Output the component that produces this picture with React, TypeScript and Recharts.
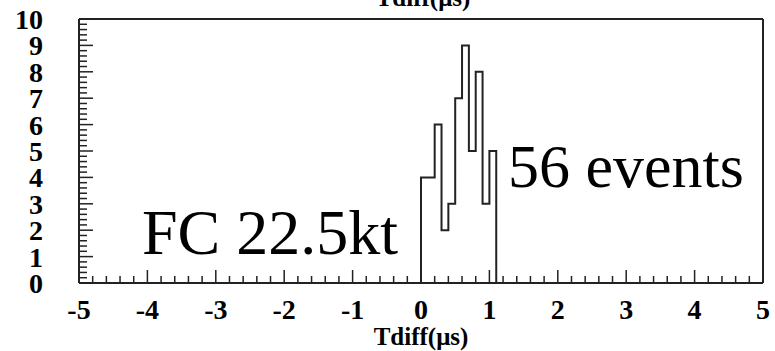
import { ComposedChart, Line, XAxis, YAxis, ReferenceLine } from "recharts";

// Histogram of Tdiff, 0.1 µs bins; only the non-empty bins are listed
const BIN_LOW = [0.0, 0.1, 0.2, 0.3, 0.4, 0.5, 0.6, 0.7, 0.8, 0.9, 1.0];
const COUNTS = [4, 4, 6, 2, 3, 7, 9, 5, 8, 3, 5];
const BIN_WIDTH = 0.1;

const X_RANGE = [-5, 5];
const Y_RANGE = [0, 10];
const X_MAJOR = [-5, -4, -3, -2, -1, 0, 1, 2, 3, 4, 5];
const X_MINOR = [-4.8, -4.6, -4.4, -4.2, -3.8, -3.6, -3.4, -3.2, -2.8, -2.6, -2.4, -2.2, -1.8, -1.6, -1.4, -1.2, -0.8, -0.6, -0.4, -0.2, 0.2, 0.4, 0.6, 0.8, 1.2, 1.4, 1.6, 1.8, 2.2, 2.4, 2.6, 2.8, 3.2, 3.4, 3.6, 3.8, 4.2, 4.4, 4.6, 4.8];
const Y_MAJOR = [0, 1, 2, 3, 4, 5, 6, 7, 8, 9, 10];
const Y_MINOR = [0.2, 0.4, 0.6, 0.8, 1.2, 1.4, 1.6, 1.8, 2.2, 2.4, 2.6, 2.8, 3.2, 3.4, 3.6, 3.8, 4.2, 4.4, 4.6, 4.8, 5.2, 5.4, 5.6, 5.8, 6.2, 6.4, 6.6, 6.8, 7.2, 7.4, 7.6, 7.8, 8.2, 8.4, 8.6, 8.8, 9.2, 9.4, 9.6, 9.8];

const TITLE = "Tdiff(\u03bcs)";
const TOTAL_LABEL = "56 events";
const SAMPLE_LABEL = "FC 22.5kt";

// step outline: empty up to the first bin, then one point per bin edge
const lastEdge = BIN_LOW[BIN_LOW.length - 1] + BIN_WIDTH;
const data = [
  { t: X_RANGE[0], n: 0 },
  ...BIN_LOW.map((t, i) => ({ t, n: COUNTS[i] })),
  { t: lastEdge, n: 0 },
  { t: X_RANGE[1], n: 0 },
];

const xTickValues = [...X_MAJOR, ...X_MINOR].sort((a, b) => a - b);
const yTickValues = [...Y_MAJOR, ...Y_MINOR].sort((a, b) => a - b);

const FONT = "'Liberation Serif', 'Times New Roman', serif";
const INK = "#222";

// ROOT-style ticks: marks point into the frame, labels only on integers
const XTick = ({ x, y, payload }: any) => {
  const major = X_MAJOR.includes(payload.value);
  const base = y - 1;
  return (
    <g>
      <line x1={x} x2={x} y1={base} y2={base - (major ? 12 : 6)} stroke={INK} strokeWidth={1.5} />
      {major && (
        <text x={x} y={base + 37} textAnchor="middle" fontFamily={FONT} fontSize={28} fontWeight={700} fill="#000">
          {payload.value}
        </text>
      )}
    </g>
  );
};

const YTick = ({ x, y, payload }: any) => {
  const major = Y_MAJOR.includes(payload.value);
  return (
    <g>
      <line x1={x} x2={x + (major ? 14 : 8)} y1={y} y2={y} stroke={INK} strokeWidth={1.5} />
      {major && (
        <text x={x - 36} y={y + 10} textAnchor="end" fontFamily={FONT} fontSize={28} fontWeight={700} fill="#000">
          {payload.value}
        </text>
      )}
    </g>
  );
};

export default function App() {
  return (
    <div style={{ position: "absolute", left: 0, top: 0, width: 775, height: 351, background: "#fff" }}>
      <ComposedChart width={775} height={351} data={data} margin={{ top: 19, right: 12, bottom: 67, left: 78 }}>
        <XAxis
          dataKey="t"
          type="number"
          domain={X_RANGE}
          ticks={xTickValues}
          height={1}
          tickLine={false}
          tickSize={0}
          tickMargin={0}
          stroke={INK}
          strokeWidth={2}
          tick={<XTick />}
          interval={0}
          allowDataOverflow
          label={{ value: TITLE, position: "bottom", offset: 43, style: { fontSize: 25, fontWeight: 700, fill: "#000", fontFamily: FONT } }}
        />
        <YAxis
          type="number"
          domain={Y_RANGE}
          ticks={yTickValues}
          width={1}
          tickLine={false}
          tickSize={0}
          tickMargin={0}
          stroke={INK}
          strokeWidth={2}
          tick={<YTick />}
          interval={0}
          allowDataOverflow
        />
        <ReferenceLine y={Y_RANGE[1]} stroke={INK} strokeWidth={2} />
        <ReferenceLine x={X_RANGE[1]} stroke={INK} strokeWidth={2} />
        <Line
          type="stepAfter"
          dataKey="n"
          stroke={INK}
          strokeWidth={2}
          dot={false}
          isAnimationActive={false}
        />
      </ComposedChart>
      <svg width={775} height={351} style={{ position: "absolute", left: 0, top: 0, pointerEvents: "none" }}>
        <text x={423} y={6} textAnchor="middle" fontFamily={FONT} fontSize={25} fontWeight={700} fill="#000">{TITLE}</text>
        <text x={508} y={187} fontFamily={FONT} fontSize={62} fill="#000">{TOTAL_LABEL}</text>
        <text x={142} y={254} fontFamily={FONT} fontSize={64} fill="#000">{SAMPLE_LABEL}</text>
      </svg>
    </div>
  );
}
